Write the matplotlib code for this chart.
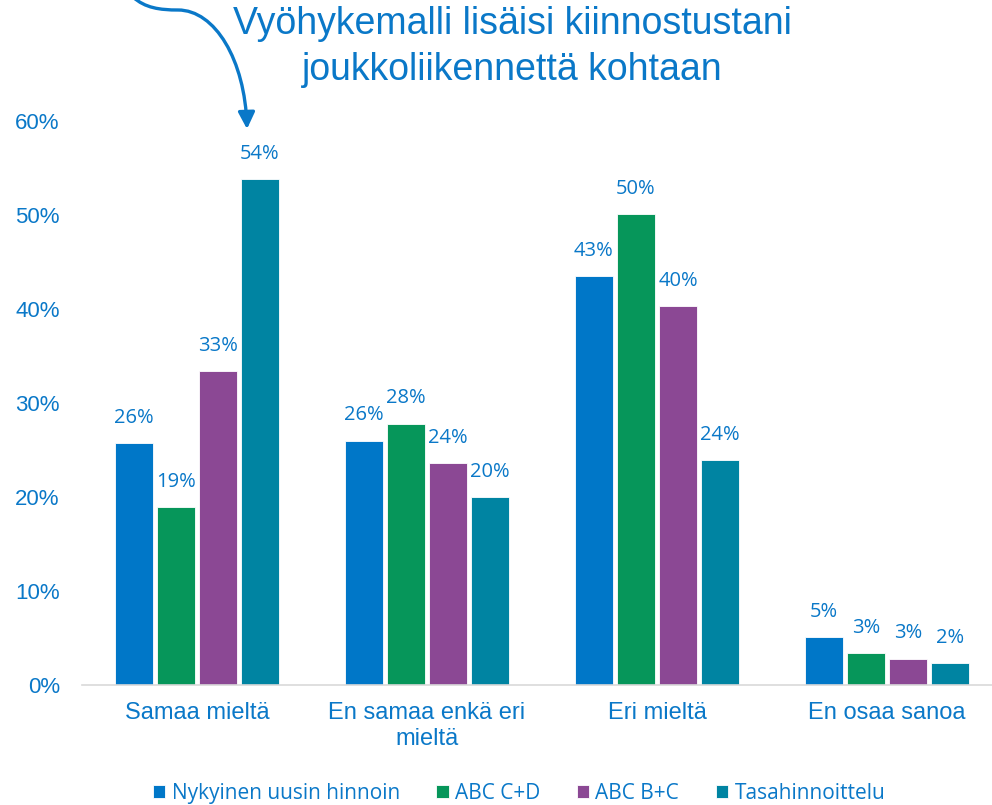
import numpy as np
import matplotlib.pyplot as plt
from matplotlib.path import Path
from matplotlib.patches import FancyArrowPatch

# Data
categories = ['Samaa mieltä', 'En samaa enkä eri\nmieltä', 'Eri mieltä', 'En osaa sanoa']
series = ['Nykyinen uusin hinnoin', 'ABC C+D', 'ABC B+C', 'Tasahinnoittelu']
nykyinen = [25.7, 26.0, 43.5, 5.1]
abc_cd = [18.9, 27.8, 50.1, 3.4]
abc_bc = [33.4, 23.6, 40.3, 2.8]
tasa = [53.8, 20.0, 23.9, 2.3]
labels = [['26%', '26%', '43%', '5%'],
          ['19%', '28%', '50%', '3%'],
          ['33%', '24%', '40%', '3%'],
          ['54%', '20%', '24%', '2%']]
yticks = [0, 10, 20, 30, 40, 50, 60]

colors = ['#0077C8', '#06965A', '#8B4894', '#0084A2']
txt = '#0A78C8'
W, H = 992, 805

plt.rcParams['font.family'] = ['Liberation Sans', 'DejaVu Sans']
fig = plt.figure(figsize=(W / 100, H / 100), dpi=100)
ax = fig.add_axes([82 / W, 1 - 685 / H, 910 / W, (685 - 121) / H])

x = np.arange(len(categories))
step = 42 / 230
width = 38 / 230
data = [nykyinen, abc_cd, abc_bc, tasa]
for i, vals in enumerate(data):
    pos = x + (i - 1.5) * step
    bars = ax.bar(pos, vals, width, color=colors[i], label=series[i],
                  edgecolor='white', linewidth=0.6)
    for b, lab in zip(bars, labels[i]):
        ax.text(b.get_x() + b.get_width() / 2, b.get_height() + 2.7, lab,
                ha='center', va='center', fontsize=14.5, color=txt,
                family=['Open Sans', 'DejaVu Sans'])

ax.set_ylim(0, 60)
ax.set_xlim(-0.5, 3.5 - 10 / 230)
ax.set_yticks(yticks)
ax.set_yticklabels([f'{v}%' for v in yticks], fontsize=16, color=txt)
ax.set_xticks(x)
ax.set_xticklabels(categories, fontsize=17, color=txt, linespacing=1.25)
ax.tick_params(length=0)
ax.tick_params(axis='y', pad=16)
ax.tick_params(axis='x', pad=12)
for s in ['top', 'right', 'left']:
    ax.spines[s].set_visible(False)
ax.spines['bottom'].set_color('#D9D9D9')
ax.spines['bottom'].set_linewidth(1.2)

leg = fig.legend(loc='center', bbox_to_anchor=(519 / W, 1 - 793 / H), ncol=4,
                 frameon=False, fontsize=15, handlelength=0.6, handleheight=0.6,
                 handletextpad=0.3, columnspacing=1.75)
for t in leg.get_texts():
    t.set_color(txt)
    t.set_family(['Open Sans', 'DejaVu Sans'])

fig.text(512 / W, 1 - 47 / H, 'Vyöhykemalli lisäisi kiinnostustani\njoukkoliikennettä kohtaan',
         ha='center', va='center', fontsize=27, color=txt, linespacing=1.35)

# curved arrow to the 54% bar
def fp(px, py):
    return (px / W, 1 - py / H)

verts = [fp(133, -3), fp(145, 8), fp(160, 10), fp(178, 10),
         fp(215, 10), fp(245, 60), fp(247, 129)]
codes = [Path.MOVETO, Path.CURVE4, Path.CURVE4, Path.CURVE4,
         Path.CURVE4, Path.CURVE4, Path.CURVE4]
arrow = FancyArrowPatch(path=Path(verts, codes), transform=fig.transFigure,
                        arrowstyle='-|>,head_length=10,head_width=5',
                        color='#0A78C8', linewidth=2.4, shrinkA=0, shrinkB=0)
fig.patches.append(arrow)

fig.savefig('out.png', dpi=100)
